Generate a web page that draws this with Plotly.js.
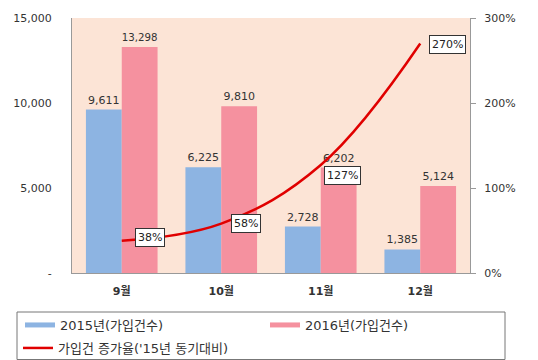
<!DOCTYPE html>
<html><head><meta charset="utf-8">
<script src="https://cdn.plot.ly/plotly-3.0.1.min.js"></script>
<style>html,body{margin:0;padding:0;background:#fff}</style>
</head><body><div id="chart" style="width:538px;height:360px"></div>
<script>
const categories = ["9월", "10월", "11월", "12월"];
const joins2015 = [9611, 6225, 2728, 1385];
const joins2016 = [13298, 9810, 6202, 5124];
const growthRate = [38, 58, 127, 270];
const seriesNames = ["2015년(가입건수)", "2016년(가입건수)", "가입건 증가율('15년 동기대비)"];
const leftTicks = [0, 5000, 10000, 15000];
const leftTickText = ["-", "5,000", "10,000", "15,000"];
const rightTicks = [0, 100, 200, 300];

const F = "DejaVu Sans, Noto Sans CJK KR, sans-serif";
const fmt = v => v.toLocaleString("en-US");
const blue = "#8DB4E2", pink = "#F5919F", red = "#E00000";

const traces = [
  {type: "bar", name: seriesNames[0], x: categories, y: joins2015, showlegend: false,
   marker: {color: blue}, text: joins2015.map(fmt), textposition: "outside",
   cliponaxis: false, textfont: {family: F, size: 11, color: "#333"}},
  {type: "bar", name: seriesNames[1], x: categories, y: joins2016, showlegend: false,
   marker: {color: pink}, text: joins2016.map(fmt), textposition: "outside",
   cliponaxis: false, textfont: {family: F, size: 11, color: "#333"}},
  {type: "scatter", mode: "lines", name: seriesNames[2], x: categories, y: growthRate,
   yaxis: "y2", legend: "legend3",
   line: {color: red, width: 2.5, shape: "spline", smoothing: 1.1}},
  // legend-only swatches for the bar series (wide, thin like the reference)
  {type: "scatter", mode: "lines", name: seriesNames[0], x: [null], y: [null],
   legend: "legend", line: {color: blue, width: 5}},
  {type: "scatter", mode: "lines", name: seriesNames[1], x: [null], y: [null],
   legend: "legend2", line: {color: pink, width: 5}}
];

const shifts = [[13, 3], [10, 0], [3, -10], [9, -1]];
const annotations = categories.map((c, i) => ({
  x: c, y: growthRate[i], xref: "x", yref: "y2", text: growthRate[i] + "%",
  showarrow: false, xanchor: "left", yanchor: "middle",
  xshift: shifts[i][0], yshift: shifts[i][1],
  bgcolor: "#ffffff", bordercolor: "#333", borderwidth: 1, borderpad: 2,
  font: {family: F, size: 11, color: "#222"}
}));

const legendBase = {orientation: "h", xanchor: "left", yanchor: "middle",
  borderwidth: 0, bgcolor: "rgba(0,0,0,0)", itemwidth: 30,
  font: {family: F, size: 13, color: "#333"}};
const px2x = p => (p - 72) / 398;
const py2y = p => (273 - p) / 255;

const layout = {
  width: 538, height: 360,
  margin: {l: 72, r: 68, t: 18, b: 87, autoexpand: false},
  paper_bgcolor: "#ffffff", plot_bgcolor: "#FCE4D6",
  font: {family: F, size: 11, color: "#333"},
  barmode: "group", bargap: 0.28, bargroupgap: 0,
  showlegend: true,
  legend: Object.assign({}, legendBase, {x: px2x(20), y: py2y(325)}),
  legend2: Object.assign({}, legendBase, {x: px2x(265), y: py2y(325)}),
  legend3: Object.assign({}, legendBase, {x: px2x(18), y: py2y(348)}),
  xaxis: {showline: true, linecolor: "#999", ticks: "", showgrid: false,
    tickfont: {family: F, size: 11, color: "#333", weight: "bold"}, ticklabelstandoff: 8},
  yaxis: {range: [0, 15000], tickvals: leftTicks, ticktext: leftTickText,
    showline: true, linecolor: "#999", showgrid: false, zeroline: false, ticks: "",
    tickfont: {family: F, size: 11, color: "#333"}, ticklabelstandoff: 17},
  yaxis2: {range: [0, 300], tickvals: rightTicks, ticktext: rightTicks.map(v => v + "%"),
    overlaying: "y", side: "right", showline: true, linecolor: "#999", showgrid: false,
    zeroline: false, ticks: "outside", ticklen: 5, tickcolor: "#999", ticklabelstandoff: 6,
    tickfont: {family: F, size: 11, color: "#333"}},
  shapes: [{type: "rect", xref: "paper", yref: "paper",
    x0: px2x(17), x1: px2x(505), y0: py2y(312), y1: py2y(359.5),
    line: {color: "#777", width: 1}, fillcolor: "rgba(0,0,0,0)", layer: "above"}],
  annotations: annotations
};

Plotly.newPlot("chart", traces, layout, {displayModeBar: false, staticPlot: true});
</script></body></html>
